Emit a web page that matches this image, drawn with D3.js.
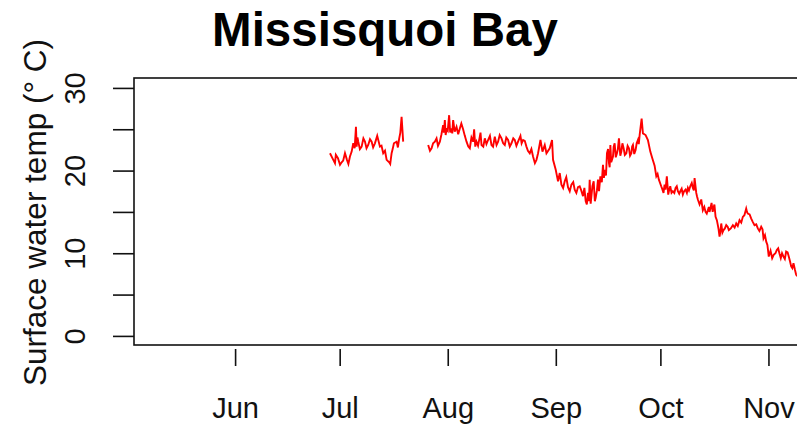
<!DOCTYPE html>
<html>
<head>
<meta charset="utf-8">
<script src="https://cdn.jsdelivr.net/npm/d3@7"></script>
<style>
  html, body { margin: 0; padding: 0; background: #fff; }
  svg { display: block; font-family: "Liberation Sans", Arial, Helvetica, sans-serif; }
</style>
</head>
<body>
<svg id="chart" width="797" height="424"></svg>
<script>
// Surface water temperature logger record, Missisquoi Bay (day of year, deg C).
// A null temperature marks the gap in the record in late July.
const dayOfYear = [
  179.22, 180.17, 180.65, 180.9, 181.51, 182.1, 182.57, 183.0, 183.52, 184.09,
  184.5, 184.95, 185.44, 185.90, 186.3, 186.67, 186.87, 187.1, 187.33, 187.8,
  188.30, 188.8, 189.25, 189.7, 190.19, 190.7, 191.17, 191.6, 192.11, 192.77,
  193.55, 194.0, 194.49, 195.0, 195.47, 196.21, 196.5, 196.90, 197.2, 197.56,
  198.33, 198.7, 199.08, 199.4, 199.76, 200.22, 204.0, 207.39, 207.9, 208.36,
  208.8, 209.31, 209.79, 210.2, 210.74, 211.2, 211.68, 211.9, 212.17, 212.4,
  212.66, 213.0, 213.40, 213.7, 214.09, 214.3, 214.55, 215.0, 215.52, 216.0,
  216.47, 216.9, 217.41, 217.9, 218.39, 218.9, 219.33, 219.8, 220.28, 220.57,
  220.9, 221.26, 221.7, 222.20, 222.4, 222.69, 223.2, 223.63, 224.1, 224.58,
  225.1, 225.55, 226.0, 226.50, 227.0, 227.44, 227.9, 228.42, 228.9, 229.36,
  229.8, 230.31, 230.8, 231.28, 231.8, 232.23, 232.7, 233.17, 233.86, 234.2,
  234.61, 235.1, 235.58, 236.0, 236.53, 237.0, 237.47, 238.0, 238.45, 238.91,
  239.60, 240.17, 240.83, 241.32, 242.26, 242.92, 243.21, 243.98, 244.64, 245.13,
  245.61, 246.1, 246.56, 247.0, 247.50, 248.0, 248.48, 249.0, 249.42, 249.9,
  250.37, 250.85, 251.3, 251.80, 252.2, 252.57, 252.9, 253.23, 253.5, 253.72,
  254.0, 254.21, 254.5, 254.87, 255.2, 255.44, 255.8, 256.10, 256.4, 256.78,
  257.2, 257.53, 257.8, 258.02, 258.4, 258.68, 259.0, 259.25, 259.45, 259.65,
  259.9, 260.40, 260.6, 260.88, 261.2, 261.54, 261.8, 262.11, 262.5, 262.80,
  263.1, 263.46, 263.8, 264.23, 264.6, 264.98, 265.3, 265.67, 265.9, 266.13,
  266.5, 266.89, 267.2, 267.56, 267.8, 268.05, 268.62, 268.99, 269.76, 270.42,
  271.11, 271.68, 272.34, 272.83, 273.2, 273.57, 274.24, 274.6, 274.90, 275.2,
  275.48, 275.85, 276.25, 276.5, 276.83, 277.2, 277.58, 278.0, 278.36, 278.7,
  279.02, 279.4, 279.71, 280.1, 280.45, 280.8, 281.23, 281.6, 281.89, 282.2,
  282.57, 283.0, 283.32, 283.6, 283.81, 284.29, 284.5, 284.75, 285.24, 285.5,
  285.72, 286.18, 286.6, 286.96, 287.3, 287.62, 287.9, 288.10, 288.4, 288.68,
  289.0, 289.25, 289.5, 289.83, 290.2, 290.48, 290.7, 290.97, 291.2, 291.46,
  291.8, 292.12, 292.5, 292.89, 293.3, 293.64, 294.2, 294.79, 295.3, 295.76,
  296.2, 296.70, 297.2, 297.65, 298.1, 298.62, 298.85, 299.08, 299.6, 300.06,
  300.5, 301.00, 301.5, 301.95, 302.4, 302.92, 303.3, 303.58, 304.0, 304.36,
  304.7, 305.09, 305.6, 306.07, 306.5, 307.01, 307.4, 307.79, 308.2, 308.54,
  308.9, 309.31, 309.7, 310.08, 310.5, 310.83, 311.2, 311.52, 311.85, 312.18,
  312.6, 312.95, 313.4, 313.90
];
const waterTemp = [
  22.1, 21.3, 20.9, 21.9, 21.5, 20.7, 21.0, 21.2, 22.1, 21.3,
  20.8, 21.7, 22.3, 23.3, 22.7, 25.3, 22.9, 24.0, 23.5, 22.6,
  22.9, 23.9, 23.5, 22.7, 23.1, 23.8, 23.5, 22.8, 23.3, 24.2,
  22.9, 23.0, 22.1, 22.4, 21.3, 21.0, 20.8, 22.1, 22.6, 23.3,
  23.5, 22.8, 23.9, 24.6, 26.5, 23.5, null, 23.1, 22.4, 22.7,
  23.3, 23.5, 23.9, 23.0, 23.5, 24.4, 25.5, 24.6, 26.1, 24.3,
  25.0, 24.8, 26.7, 24.6, 25.1, 24.5, 26.1, 24.7, 25.3, 24.4,
  25.1, 25.7, 25.0, 24.2, 23.5, 22.9, 22.7, 24.0, 23.5, 25.0,
  22.9, 23.5, 23.0, 24.1, 24.6, 23.1, 22.9, 23.9, 23.2, 23.7,
  24.2, 23.1, 22.9, 24.1, 23.1, 23.5, 24.3, 23.9, 23.3, 23.1,
  24.0, 23.7, 22.9, 23.3, 23.9, 23.7, 23.0, 23.5, 24.2, 23.3,
  23.7, 23.6, 22.9, 22.4, 22.1, 22.6, 21.7, 20.9, 21.3, 22.1,
  23.7, 22.3, 23.1, 22.1, 22.7, 23.7, 21.3, 20.1, 18.7, 19.7,
  18.3, 17.9, 18.7, 19.2, 18.0, 17.5, 18.3, 18.6, 17.7, 17.3,
  18.0, 18.1, 17.6, 16.9, 17.9, 16.3, 15.9, 17.3, 16.3, 18.9,
  16.0, 16.9, 18.1, 18.7, 16.3, 16.7, 17.6, 18.9, 17.5, 19.3,
  18.6, 20.7, 19.1, 20.1, 19.4, 22.1, 22.6, 20.9, 20.4, 23.1,
  21.0, 21.7, 22.9, 23.3, 21.6, 22.1, 22.6, 23.9, 21.8, 22.3,
  23.3, 22.7, 21.9, 22.1, 23.0, 22.7, 21.8, 22.1, 22.9, 23.1,
  22.0, 22.5, 23.3, 23.7, 23.2, 24.3, 26.3, 24.5, 24.3, 23.7,
  22.3, 21.5, 20.6, 19.3, 19.6, 18.9, 18.1, 17.7, 17.3, 18.3,
  17.7, 19.3, 17.1, 17.6, 18.1, 17.3, 17.5, 17.3, 17.9, 18.1,
  17.5, 17.2, 17.5, 17.8, 17.1, 17.5, 17.7, 17.3, 17.9, 17.6,
  18.1, 18.5, 17.9, 17.6, 19.1, 17.3, 16.9, 16.5, 15.9, 16.2,
  16.5, 15.2, 15.6, 15.0, 14.8, 15.2, 15.6, 15.0, 15.5, 16.1,
  15.0, 15.5, 15.9, 14.4, 14.0, 13.4, 12.9, 12.0, 12.6, 13.6,
  12.5, 12.8, 13.0, 13.4, 13.2, 12.8, 13.0, 13.4, 13.1, 13.6,
  13.3, 14.0, 13.7, 14.4, 14.6, 15.4, 15.0, 14.8, 14.7, 14.2,
  13.8, 13.4, 13.5, 13.0, 12.7, 13.2, 12.9, 11.8, 12.2, 11.4,
  11.0, 9.6, 10.3, 9.4, 9.8, 10.0, 10.4, 10.6, 9.9, 9.4,
  10.0, 9.6, 9.3, 10.2, 10.1, 9.6, 9.0, 8.4, 8.2, 8.8,
  8.0, 7.4, 7.2, 7.0
];

// Month ticks on the date axis (first day of each month, day of year)
const monthStarts = [152, 182, 213, 244, 274, 305];
const monthLabels = ["Jun", "Jul", "Aug", "Sep", "Oct", "Nov"];

// Temperature axis ticks; only every second one carries a label
const tempTicks = [0, 5, 10, 15, 20, 25, 30];
const tempLabels = ["0", "", "10", "", "20", "", "30"];

const titleText = "Missisquoi Bay";
const yTitle = "Surface water temp (\u00b0 C)";

const svg = d3.select("#chart");
const plot = { left: 134, right: 880, top: 78, bottom: 345 };

const x = d3.scaleLinear().domain([123, 337]).range([plot.left, plot.right]);
const y = d3.scaleLinear().domain([-1.1, 31.2]).range([plot.bottom, plot.top]);

// Temperature trace
const series = dayOfYear.map((d, i) => ({ day: d, temp: waterTemp[i] }));
const line = d3.line()
  .defined(d => d.temp !== null)
  .x(d => x(d.day))
  .y(d => y(d.temp));

svg.append("path")
  .datum(series)
  .attr("fill", "none")
  .attr("stroke", "#ff0000")
  .attr("stroke-width", 1.9)
  .attr("stroke-linejoin", "miter")
  .attr("d", line);

// Plot frame
svg.append("rect")
  .attr("x", plot.left)
  .attr("y", plot.top)
  .attr("width", plot.right - plot.left)
  .attr("height", plot.bottom - plot.top)
  .attr("fill", "none")
  .attr("stroke", "#111")
  .attr("stroke-width", 1.6);

// Left axis with rotated labels
const yAxis = d3.axisLeft(y)
  .tickValues(tempTicks)
  .tickSize(21)
  .tickFormat((d, i) => tempLabels[i]);

const gy = svg.append("g")
  .attr("transform", `translate(${plot.left},0)`)
  .call(yAxis);
gy.select(".domain").remove();
gy.selectAll(".tick line").attr("stroke", "#111").attr("stroke-width", 1.6);
gy.selectAll(".tick text")
  .attr("transform", "rotate(-90)")
  .attr("x", 0)
  .attr("y", -49)
  .attr("dy", 0)
  .attr("text-anchor", "middle")
  .attr("fill", "#111")
  .style("font-size", "29px")
  .style("font-family", "'Liberation Sans', Arial, sans-serif");

// Bottom date axis
const xAxis = d3.axisBottom(x)
  .tickValues(monthStarts)
  .tickSize(17)
  .tickFormat((d, i) => monthLabels[i]);

const gx = svg.append("g")
  .attr("transform", `translate(0,349)`)
  .call(xAxis);
gx.select(".domain").remove();
gx.selectAll(".tick line").attr("stroke", "#111").attr("stroke-width", 1.6);
gx.selectAll(".tick text")
  .attr("y", 69)
  .attr("dy", 0)
  .attr("fill", "#111")
  .style("font-size", "29px")
  .style("font-family", "'Liberation Sans', Arial, sans-serif");

// Title
svg.append("text")
  .attr("x", 385)
  .attr("y", 46)
  .attr("text-anchor", "middle")
  .attr("font-weight", "bold")
  .attr("font-size", 47.5)
  .attr("fill", "#000")
  .text(titleText);

// Y axis title
svg.append("text")
  .attr("transform", `translate(46,${(40 + 385) / 2}) rotate(-90)`)
  .attr("text-anchor", "middle")
  .attr("font-size", 31.5)
  .attr("fill", "#111")
  .text(yTitle);
</script>
</body>
</html>
